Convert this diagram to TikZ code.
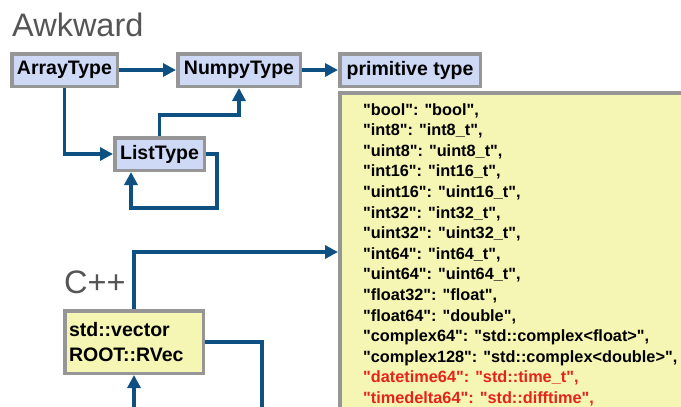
\documentclass[tikz,border=0pt]{standalone}
\usepackage{fontspec}
\setmainfont{Liberation Sans}[Ligatures=TeXOff]
\usetikzlibrary{arrows.meta,calc}
\definecolor{arrblue}{RGB}{14,80,130}
\definecolor{boxgray}{RGB}{150,150,150}
\definecolor{boxblue}{RGB}{205,217,245}
\definecolor{boxyellow}{RGB}{245,245,180}
\definecolor{titlegray}{RGB}{85,85,85}
\definecolor{hotred}{RGB}{230,35,25}
\tikzset{
  typebox/.style={draw=boxgray, line width=3.5pt, fill=boxblue, inner sep=0pt,
    minimum height=32.5pt, font=\fontsize{19.5}{23}\selectfont\bfseries},
  yelbox/.style={draw=boxgray, line width=3.5pt, fill=boxyellow},
  arr/.style={draw=arrblue, line width=3.5pt, -{Triangle[length=13pt,width=13pt]}},
  conn/.style={draw=arrblue, line width=3.5pt},
  title/.style={font=\fontsize{32.5}{38}\selectfont, text=titlegray, inner sep=0pt, anchor=base west},
  listline/.style={font=\fontsize{16.3}{20}\selectfont\bfseries, inner sep=0pt, anchor=base west}
}
\begin{document}
\begin{tikzpicture}[x=1pt,y=-1pt]
\useasboundingbox (0,0) rectangle (681,407);
\clip (0,0) rectangle (681,407);
\node[title] (awk) at (12,36) {Awkward};
\node[typebox, minimum width=105.5pt] (array) at (64.5,70) {ArrayType};
\node[typebox, minimum width=122.5pt] (numpy) at (239,70) {NumpyType};
\node[typebox, minimum width=140.5pt] (prim) at (410,70) {primitive type};
\node[typebox, minimum width=89.5pt] (list) at (159.5,154) {ListType};
\node[yelbox, anchor=north west, minimum width=400pt, minimum height=360pt] (big) at (338,91) {};
\foreach \t [count=\i] in {%
  {"bool": "bool",},
  {"int8": "int8\_t",},
  {"uint8": "uint8\_t",},
  {"int16": "int16\_t",},
  {"uint16": "uint16\_t",},
  {"int32": "int32\_t",},
  {"uint32": "uint32\_t",},
  {"int64": "int64\_t",},
  {"uint64": "uint64\_t",},
  {"float32": "float",},
  {"float64": "double",},
  {"complex64": "std::complex<float>",},
  {"complex128": "std::complex<double>",}}
  \node[listline] (line\i) at (363,{115+20.6*(\i-1)}) {\t};
\node[listline, text=hotred] (line14) at (363,{115+20.6*13}) {"datetime64": "std::time\_t",};
\node[listline, text=hotred] (line15) at (363,{115+20.6*14}) {"timedelta64": "std::difftime",};
\node[title] (cpplabel) at (64,293) {C++};
\node[yelbox, inner xsep=4.25pt, inner ysep=0pt, text width=130pt, minimum height=62.5pt, align=left,
  font=\fontsize{19.5}{25}\selectfont\bfseries] (cpp) at (134,342) {std::vector\\ROOT::RVec};
\coordinate (loopA) at (217,208);
\coordinate (cppdown) at (262,420);
\coordinate (cppin) at (133,420);
\draw[arr] (array) -- (numpy);
\draw[arr] (numpy) -- (prim);
\draw[arr] (array.south) |- (list.west);
\draw[arr] (list.north) -- (list.north |- 0,115) -| (numpy.south);
\draw[arr] (list.east) -| (loopA) -| ([xshift=-28.5pt]list.south);
\draw[arr] (cpp.north) |- (big.west |- 0,252);
\draw[conn] (cpp.east) -| (cppdown);
\draw[arr] (cpp.south |- cppin) -- (cpp.south);
\end{tikzpicture}
\end{document}
